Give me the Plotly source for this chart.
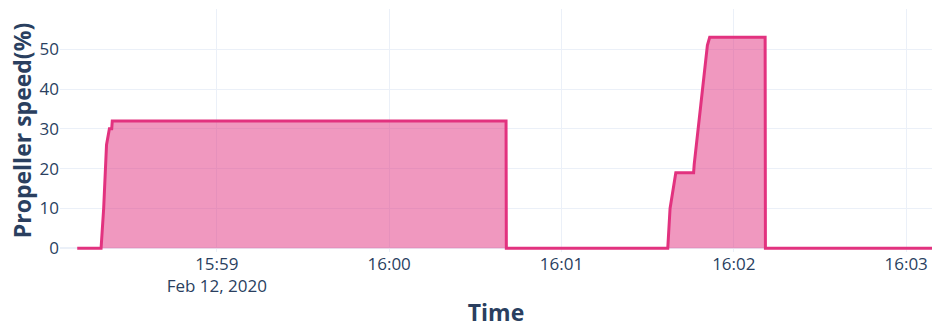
import plotly.graph_objects as go

times = [
    "2020-02-12 15:58:11.4",
    "2020-02-12 15:58:19.7",
    "2020-02-12 15:58:20.6",
    "2020-02-12 15:58:21.6",
    "2020-02-12 15:58:22.6",
    "2020-02-12 15:58:23.4",
    "2020-02-12 15:58:23.6",
    "2020-02-12 16:00:40.7",
    "2020-02-12 16:00:40.8",
    "2020-02-12 16:01:37.0",
    "2020-02-12 16:01:37.8",
    "2020-02-12 16:01:39.8",
    "2020-02-12 16:01:46.0",
    "2020-02-12 16:01:46.2",
    "2020-02-12 16:01:48.5",
    "2020-02-12 16:01:50.8",
    "2020-02-12 16:01:51.6",
    "2020-02-12 16:02:10.9",
    "2020-02-12 16:02:11.0",
    "2020-02-12 16:03:10.0",
]
speed = [0, 0, 10, 26, 30, 30, 32, 32, 0, 0, 10, 19, 19, 21, 36, 51, 53, 53, 0, 0]

line_color = "rgb(226,50,127)"

fig = go.Figure(
    go.Scatter(
        x=times,
        y=speed,
        mode="lines",
        line=dict(color=line_color, width=3),
        fill="tozeroy",
        fillcolor="rgba(226,50,127,0.5)",
    )
)

fig.update_layout(
    template="plotly_white",
    width=933,
    height=328,
    margin=dict(l=60, r=1, t=9, b=76),
    font=dict(family="Open Sans", color="#2a3f5f"),
    showlegend=False,
)
fig.update_xaxes(
    automargin=False,
    range=["2020-02-12 15:58:05.4", "2020-02-12 16:03:09.0"],
    title=dict(text="<b>Time</b>", font=dict(size=23), standoff=16),
    tickfont=dict(size=17),
)
fig.update_yaxes(
    automargin=False,
    range=[-0.93, 60.1],
    dtick=10,
    title=dict(text="<b>Propeller speed(%)</b>", font=dict(size=23), standoff=1),
    tickfont=dict(size=17),
)

fig.write_html(
    "out.html",
    config={"displayModeBar": False},
    post_script="document.body.style.margin='0';document.body.style.overflow='hidden';",
)
